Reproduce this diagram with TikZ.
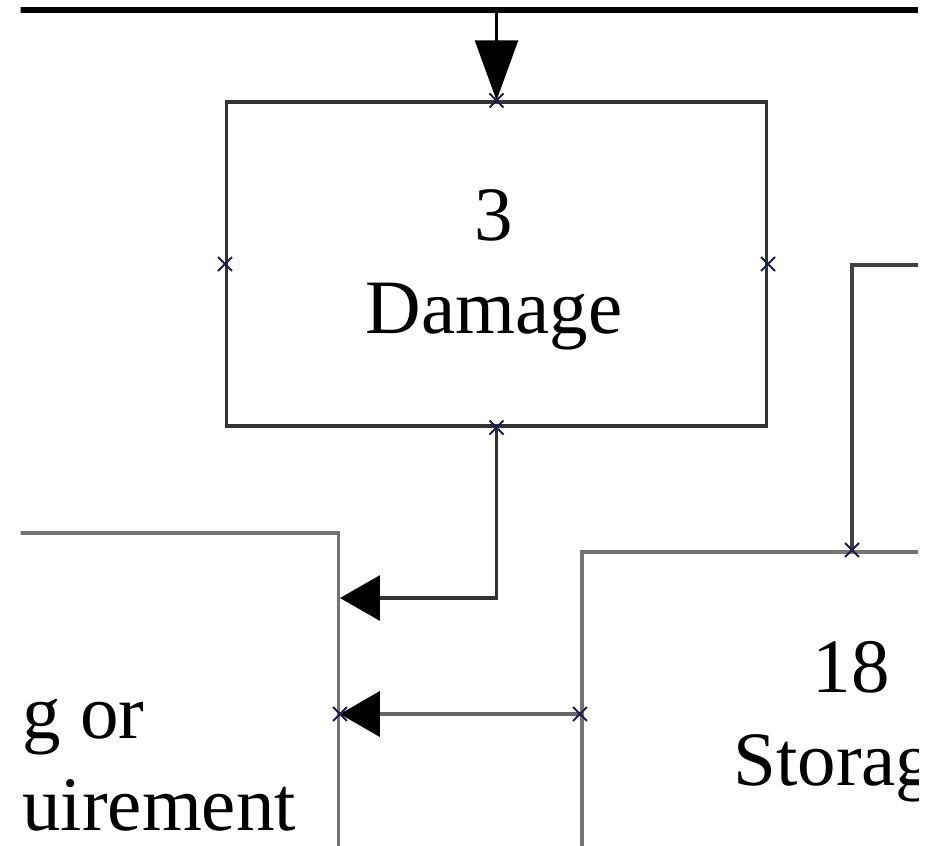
\documentclass[tikz,border=0pt]{standalone}
\usepackage{fontspec}
\setmainfont{Liberation Serif}
\usepackage{tikz}
\usetikzlibrary{arrows.meta,shapes.misc}
\definecolor{pinblue}{HTML}{1C1C4C}
\tikzset{
	procbox/.style={draw=black!80,line width=0.065cm,minimum width=10.8cm,minimum height=6.48cm,inner sep=0pt},
	boxtext/.style={font=\fontsize{43.8}{52}\selectfont,inner sep=0pt},
	pin/.style={cross out,draw=pinblue,line width=1.1pt,minimum size=0.24cm,inner sep=0pt},
	flow/.style={line width=0.065cm,draw=black!80},
	bigtip/.style={-{Triangle[length=0.8cm,width=0.9cm,color=black]}}
}

\begin{document}
\begin{tikzpicture}[x=0.02cm,y=-0.02cm]
				\useasboundingbox (0,0) rectangle (935,845);
				\clip (20.5,0) rectangle (918,845);
				\coordinate (busL) at (20,10);
				\coordinate (busR) at (918,10);
				\coordinate (feedR) at (930,265);
				\node[procbox] (damage) at (496.5,264) {};
				\node[procbox,draw=black!55,anchor=east,minimum height=7.28cm] (handling) at (340,715) {};
				\node[procbox,draw=black!55,line width=0.085cm] (storage) at (852,714) {};
				\node[boxtext,anchor=base] (dmgnum) at (494,240) {3};
				\node[boxtext,anchor=base] (dmgname) at (494,333) {Damage};
				\node[boxtext,anchor=base west] (handtwo) at (22,738) {g or};
				\node[boxtext,anchor=base west] (handthree) at (22,830) {uirement};
				\node[boxtext,anchor=base] (stonum) at (851,692) {18};
				\node[boxtext,anchor=base west] (stoname) at (733,785) {Storag};
				\draw[line width=0.11cm] (busL) -- (busR);
				\draw[flow,draw=black,line width=0.045cm,-{Triangle[length=1.2cm,width=0.86cm]}] (damage.north |- busL) -- (damage.north);
				\draw[flow,bigtip] (damage.south) |- ([yshift=2.34cm]handling.east);
				\draw[flow,draw=black!60,line width=0.09cm,bigtip] (storage.west) -- (storage.west -| handling.east);
				\draw[flow,draw=black!75] (storage.north) |- (feedR);
				\foreach \a in {north,south,east,west}
					\node[pin] (pin-\a) at (damage.\a) {};
				\node[pin] (pin-sn) at (storage.north) {};
				\node[pin] (pin-sw) at (storage.west) {};
				\node[pin] (pin-he) at (storage.west -| handling.east) {};
	\end{tikzpicture}
\end{document}
